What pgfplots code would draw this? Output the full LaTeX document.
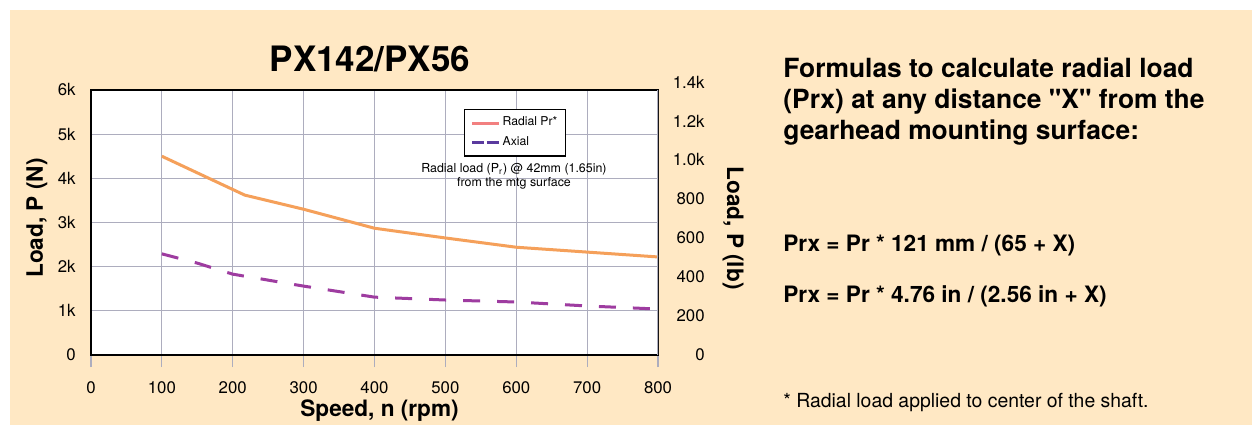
\documentclass[border=0pt]{standalone}
\usepackage{pgfplots}
\pgfplotsset{compat=1.18}
\usepackage{fontspec}
\setmainfont{TeX Gyre Heros}
\definecolor{beige}{HTML}{FFE8C4}
\definecolor{radorange}{HTML}{F5A05A}
\definecolor{axpurple}{HTML}{9E3CA0}
\definecolor{legsalmon}{HTML}{F28080}
\definecolor{legindigo}{HTML}{5A3A9E}
\definecolor{gridgray}{HTML}{ADADBE}
\begin{document}
\begin{tikzpicture}
\begin{scope}[x=0.5bp,y=-0.5bp]
\fill[white] (0,0) rectangle (1252,429);
\fill[beige] (10,10) rectangle (1252,425);
\coordinate (A) at (91,355);
\end{scope}
\begin{axis}[
  at={(A)}, anchor=south west,
  scale only axis, width=283.5bp, height=132.5bp,
  xmin=0, xmax=800, ymin=0, ymax=6000,
  xtick={0,100,...,800},
  ytick={0,1000,...,6000},
  yticklabels={0,1k,2k,3k,4k,5k,6k},
  scaled y ticks=false,
  axis background/.style={fill=white},
  grid=major,
  grid style={draw=gridgray, line width=0.6pt},
  axis line style={black, line width=0.8pt},
  xtick pos=left, ytick pos=left,
  tick align=outside,
  major tick length=6bp,
  xtick style={draw=gridgray, line width=0.6pt},
  ytick style={draw=none},
  /pgf/number format/assume math mode=true,
  ticklabel style={font=\fontsize{8.4bp}{10bp}\selectfont, inner sep=0pt},
  xticklabel style={anchor=north, yshift=-7bp},
  yticklabel style={anchor=east, xshift=-1.5bp},
  legend style={at={(rel axis cs:0.658,0.928)}, anchor=north west,
    font=\fontsize{6.1bp}{7bp}\selectfont, draw=black, line width=0.6pt,
    inner xsep=3bp, inner ysep=2.5bp, row sep=1.5bp,
    nodes={inner xsep=1bp, inner ysep=1.2bp},
    legend cell align=left},
  legend image code/.code={\draw[#1, line width=1.5bp] (0bp,0bp) -- (13.5bp,0bp);},
]
\addplot[radorange, line width=1.5bp, forget plot] coordinates {
 (100,4500) (217,3620) (300,3300) (400,2870) (500,2650) (600,2440) (700,2330) (800,2220)};
\addplot[axpurple, line width=1.5bp, dash pattern=on 8.5bp off 8.5bp, forget plot] coordinates {
 (100,2290) (150,2080) (200,1830) (300,1560) (400,1310) (500,1245) (600,1200) (700,1110) (800,1040)};
\addlegendimage{legsalmon}
\addlegendentry{Radial Pr*}
\addlegendimage{legindigo, dash pattern=on 6.1bp off 1.3bp}
\addlegendentry{Axial}
\node[align=center, font=\fontsize{6.2bp}{7bp}\selectfont] at (rel axis cs:0.746,0.675)
  {Radial load (P\textsubscript{r}) @ 42mm (1.65in)\\from the mtg surface};
\draw[gridgray, line width=0.8pt] (rel axis cs:1,1) -- (rel axis cs:1,0) -- ++(0,-6bp);
\draw[black, line width=0.8pt] (rel axis cs:0,0) -- ++(0,-6bp);
\end{axis}
\begin{axis}[
  at={(A)}, anchor=south west,
  scale only axis, width=283.5bp, height=136.5bp,
  xmin=0, xmax=800, ymin=0, ymax=1400,
  hide x axis,
  axis y line*=right,
  axis line style={draw=none},
  ytick={0,200,...,1400},
  yticklabels={0,200,400,600,800,1.0k,1.2k,1.4k},
  ytick style={draw=none},
  /pgf/number format/assume math mode=true,
  yticklabel style={font=\fontsize{8.4bp}{10bp}\selectfont, inner sep=0pt, anchor=east, xshift=23.5bp},
]
\addplot[draw=none, forget plot] coordinates {(0,0) (800,1400)};
\end{axis}
\begin{scope}[x=0.5bp,y=-0.5bp]
\node[anchor=base, font=\fontsize{17.5bp}{20bp}\selectfont\bfseries] at (370,72) {PX142/PX56};
\node[anchor=base, font=\fontsize{11.3bp}{13bp}\selectfont\bfseries] at (379.5,417) {Speed, n (rpm)};
\node[rotate=90, font=\fontsize{11.3bp}{13bp}\selectfont\bfseries] at (37,218) {Load, P (N)};
\node[rotate=-90, font=\fontsize{11.3bp}{13bp}\selectfont\bfseries] at (733,228) {Load, P (lb)};
\node[anchor=base west, inner sep=0pt, font=\fontsize{13.2bp}{15bp}\selectfont\bfseries] at (783,78) {Formulas to calculate radial load};
\node[anchor=base west, inner sep=0pt, font=\fontsize{13.2bp}{15bp}\selectfont\bfseries] at (783,109) {(Prx) at any distance \textquotedbl X\textquotedbl{} from the};
\node[anchor=base west, inner sep=0pt, font=\fontsize{13.2bp}{15bp}\selectfont\bfseries] at (783,140) {gearhead mounting surface:};
\node[anchor=base west, inner sep=0pt, font=\fontsize{11.3bp}{13bp}\selectfont\bfseries] at (783,252) {Prx = Pr * 121 mm / (65 + X)};
\node[anchor=base west, inner sep=0pt, font=\fontsize{11.3bp}{13bp}\selectfont\bfseries] at (783,303) {Prx = Pr * 4.76 in / (2.56 in + X)};
\node[anchor=base west, inner sep=0pt, font=\fontsize{9.7bp}{11bp}\selectfont] at (783,408) {* Radial load applied to center of the shaft.};
\end{scope}
\end{tikzpicture}
\end{document}
